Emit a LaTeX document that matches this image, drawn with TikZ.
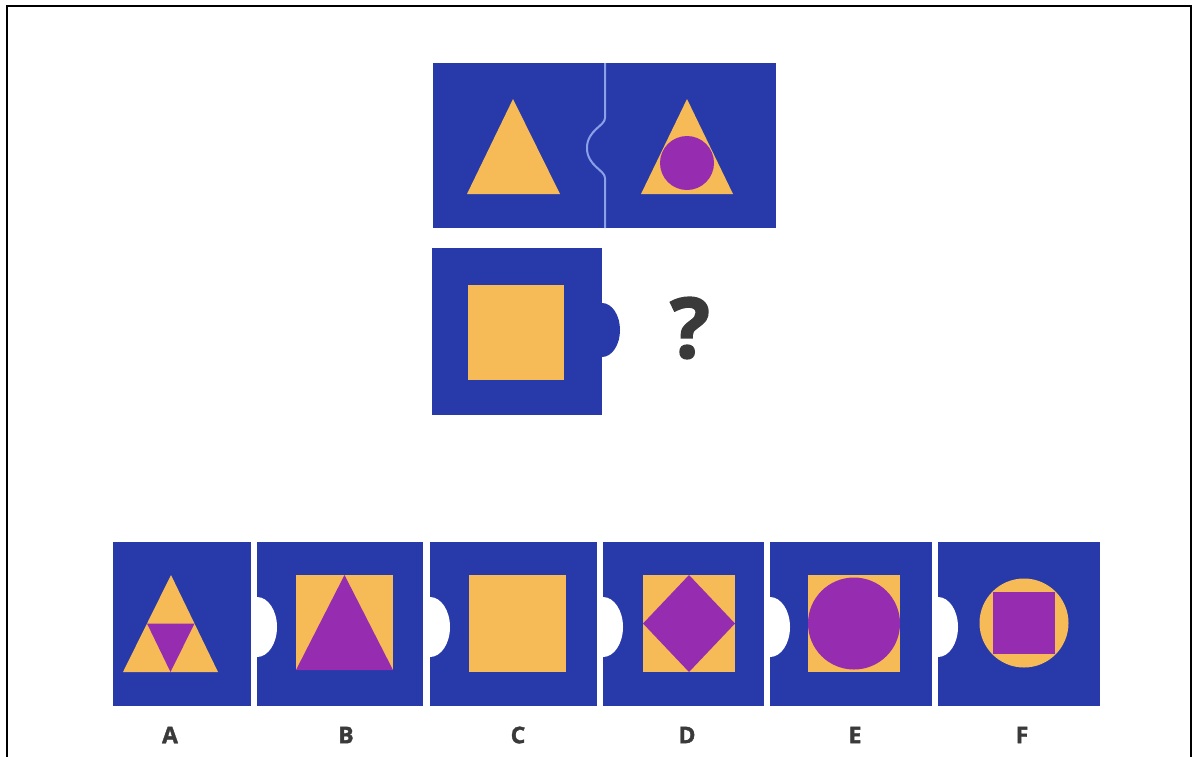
\documentclass[tikz,border=0pt]{standalone}
\usepackage{fontspec}
\setmainfont{Open Sans}
\newfontfamily\heavyfont{Open Sans}[BoldFeatures={FakeBold=1.6}]
\usepackage{tikz}
\usetikzlibrary{positioning}
\definecolor{tileblue}{RGB}{40,58,170}
\definecolor{seamblue}{RGB}{140,160,232}
\definecolor{shapeyellow}{RGB}{246,187,86}
\definecolor{shapepurple}{RGB}{150,44,176}
\definecolor{labelgray}{RGB}{58,58,58}
\newcommand{\notchcut}[1]{\fill[white] (#1-1,597) -- (#1,597) arc[start angle=-90,end angle=90,x radius=20,y radius=30] -- (#1-1,657) -- cycle;}

\begin{document}
\begin{tikzpicture}[x=1pt,y=-1pt]
\tikzstyle{tile}=[fill=tileblue]
\tikzstyle{seam}=[draw=seamblue,line width=2pt]
\tikzstyle{yel}=[fill=shapeyellow]
\tikzstyle{pur}=[fill=shapepurple]
\tikzstyle{letter}=[text=labelgray,font=\heavyfont\fontsize{23}{23}\selectfont\bfseries]
\useasboundingbox (0,0) rectangle (1193,756);
\draw[line width=2pt] (7,757) -- (7,6) -- (1191,6) -- (1191,757);
% top pair of tiles
\fill[tile] (433,63) rectangle (776,228);
\draw[seam] (605,63) -- (605,118) .. controls (605,126) and (587,130) .. (587,148)
  .. controls (587,166) and (605,170) .. (605,178) -- (605,228);
\fill[yel] (513,99) -- (467,194) -- (560,194) -- cycle;
\fill[yel] (687,99) -- (641,194) -- (733,194) -- cycle;
\fill[pur] (687,163) circle (27);
% middle tile with knob
\fill[tile] (432,248) rectangle (602,415);
\fill[tile] (601,303) -- (602,303) arc[start angle=-90,end angle=90,x radius=18,y radius=27] -- (601,357) -- cycle;
\fill[yel] (468,285) rectangle (564,380);
\node[text=labelgray,font=\heavyfont\fontsize{84}{84}\selectfont\bfseries] (q) at (690,328) {?};
% answer tiles
\fill[tile] (113,542) rectangle (251,706);
\foreach \xa/\xb in {257/423,430/597,603/764,770/932,938/1100}{
  \fill[tile] (\xa,542) rectangle (\xb,706);
  \notchcut{\xa}
}
% A
\fill[yel] (171,575) -- (123,672) -- (218,672) -- cycle;
\fill[pur] (147,623.5) -- (194.5,623.5) -- (170.5,672) -- cycle;
% B
\fill[yel] (296,575) rectangle (393,670);
\fill[pur] (344.5,575) -- (296,670) -- (393,670) -- cycle;
% C
\fill[yel] (469,575) rectangle (566,672);
% D
\fill[yel] (643,575) rectangle (735,672);
\fill[pur] (689,575) -- (735,623.5) -- (689,672) -- (643,623.5) -- cycle;
% E
\fill[yel] (808,575) rectangle (900,672);
\fill[pur] (854,623.5) circle (46);
% F
\fill[yel] (1024,623) circle (44.5);
\fill[pur] (993,592) rectangle (1055,654);
% letters
\foreach \lbl/\x in {A/170,B/346,C/518,D/687,E/855,F/1022}
  \node[letter] (lbl\lbl) at (\x,735) {\lbl};
\end{tikzpicture}
\end{document}
